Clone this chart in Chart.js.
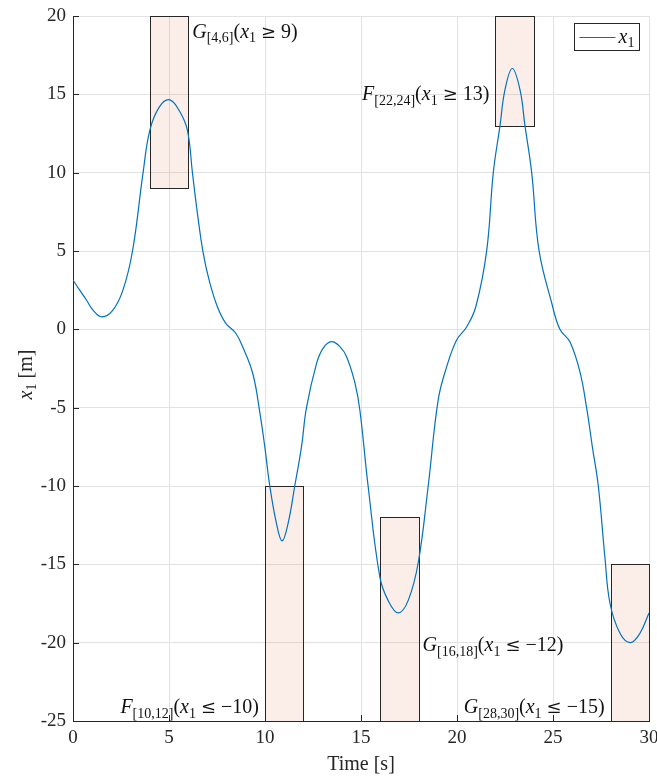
<!DOCTYPE html>
<html>
<head>
<meta charset="utf-8">
<script src="https://cdn.jsdelivr.net/npm/chart.js@4.4.1/dist/chart.umd.min.js"></script>
<style>
  body { margin: 0; background: #fff; }
  canvas { display: block; }
</style>
</head>
<body>
<canvas id="x1-plot" width="657" height="778"></canvas>
<script>
// trajectory
const timeS = [0, 0.35, 0.7, 1.04, 1.5, 2.08, 2.6, 3.1, 3.65, 4.0,
  4.5, 5.04, 5.56, 5.96, 6.22, 6.48, 6.77, 7.09, 7.52, 7.96,
  8.48, 8.91, 9.38, 9.73, 10.0, 10.25, 10.6, 10.89, 11.2, 11.55,
  11.9, 12.16, 12.68, 13.03, 13.46, 13.9, 14.25, 14.68, 14.94, 15.37,
  15.98, 16.41, 16.94, 17.46, 17.98, 18.5, 19.02, 19.46, 19.98, 20.5,
  20.98, 21.55, 21.89, 22.24, 22.5, 22.88, 23.28, 23.54, 23.89,
  24.27, 24.95, 25.36, 25.88, 26.4, 26.75, 27.05, 27.36, 27.7,
  27.97, 28.49, 29.03, 29.53, 30];
const x1 = [3.15, 2.5, 1.87, 1.23, 0.8, 1.23, 2.5, 5.0, 10.0, 12.7,
  14.2, 14.65, 13.9, 12.7, 10.0, 7.4, 4.95, 3.14, 1.44, 0.38,
  -0.25, -1.32, -2.9, -5.3, -7.6, -10.0, -12.4, -13.5, -12.4, -10.0,
  -7.5, -5.0, -2.2, -1.2, -0.79, -1.1, -1.75, -3.4, -5.15, -10.0,
  -15.8, -17.3, -18.1, -17.3, -14.9, -10.0, -4.5, -2.4, -0.68, 0.15,
  1.44, 5.06, 10.0, 13.0, 15.3, 16.65, 15.3, 13.0, 10.0,
  5.06, 1.6, 0.0, -0.8, -2.7, -5.0, -7.5, -10.0, -14.5,
  -17.5, -19.4, -20.0, -19.4, -18.1];

const xTicks = [0, 5, 10, 15, 20, 25, 30];
const yTicks = [-25, -20, -15, -10, -5, 0, 5, 10, 15, 20];

// STL specification boxes
const boxFrom = [4, 10, 16, 22, 28];
const boxTo = [6, 12, 18, 24, 30];
const boxLow = [9, -25, -25, 13, -25];
const boxHigh = [20, -10, -12, 20, -15];
const boxOp = ['G', 'F', 'G', 'F', 'G'];
const boxRel = ['\u2265', '\u2264', '\u2264', '\u2265', '\u2264'];
const boxBound = ['9', '\u221210', '\u221212', '13', '\u221215'];

// where each box label goes (side of the box, baseline in data units)
const labelSide = ['right', 'left', 'right', 'left', 'left'];
const labelBase = [18.6, -24.5, -20.56, 14.62, -24.5];

const SERIF = '"Liberation Serif", "DejaVu Serif", serif';
const INK = '#262626';

function drawMath(ctx, parts, x, y, align, size) {
  const sub = Math.round(size * 0.7);
  const fontOf = p => (p.it ? 'italic ' : '') + (p.sub ? sub : (p.s || size)) + 'px ' + (p.f || SERIF);
  let w = 0;
  parts.forEach(p => { ctx.font = fontOf(p); p.w = ctx.measureText(p.t).width; w += p.w; });
  let cx = align === 'right' ? x - w : align === 'center' ? x - w / 2 : x;
  ctx.textAlign = 'left';
  ctx.textBaseline = 'alphabetic';
  parts.forEach(p => {
    ctx.font = fontOf(p);
    ctx.fillText(p.t, cx, y + (p.sub ? size * 0.22 : 0));
    cx += p.w;
  });
}

const stlBoxes = {
  id: 'stlBoxes',
  beforeDatasetsDraw(chart) {
    const {ctx, scales: {x, y}} = chart;
    ctx.save();
    boxFrom.forEach((t0, i) => {
      const l = Math.round(x.getPixelForValue(t0)) + 0.5;
      const r = Math.round(x.getPixelForValue(boxTo[i])) + 0.5;
      const top = Math.round(y.getPixelForValue(boxHigh[i])) + 0.5;
      const bot = Math.round(y.getPixelForValue(boxLow[i])) + 0.5;
      ctx.fillStyle = 'rgba(217,83,25,0.1)';
      ctx.fillRect(l, top, r - l, bot - top);
      ctx.strokeStyle = INK;
      ctx.lineWidth = 1;
      ctx.strokeRect(l, top, r - l, bot - top);
    });
    ctx.restore();
  },
  afterDatasetsDraw(chart) {
    const {ctx, chartArea: a, scales: {x, y}} = chart;
    ctx.save();
    ctx.fillStyle = '#111';
    boxFrom.forEach((t0, i) => {
      const parts = [
        {t: boxOp[i], it: true},
        {t: '[' + t0 + ',' + boxTo[i] + ']', sub: true},
        {t: '('},
        {t: 'x', it: true},
        {t: '1', sub: true},
        {t: ' '},
        {t: boxRel[i], f: '"DejaVu Serif", serif', s: 18},
        {t: ' ' + boxBound[i] + ')'}
      ];
      const yy = y.getPixelForValue(labelBase[i]);
      if (labelSide[i] === 'right') {
        drawMath(ctx, parts, x.getPixelForValue(boxTo[i]) + 4, yy, 'left', 20);
      } else {
        drawMath(ctx, parts, x.getPixelForValue(t0) - 6, yy, 'right', 20);
      }
    });

    // inward ticks
    ctx.strokeStyle = INK;
    ctx.lineWidth = 1;
    ctx.beginPath();
    xTicks.forEach(v => {
      const px = Math.round(x.getPixelForValue(v)) + 0.5;
      ctx.moveTo(px, a.bottom);
      ctx.lineTo(px, a.bottom - 6);
    });
    yTicks.forEach(v => {
      const py = Math.round(y.getPixelForValue(v)) + 0.5;
      ctx.moveTo(a.left, py);
      ctx.lineTo(a.left + 6, py);
    });
    ctx.stroke();

    // legend
    const lx = a.right - 74.5, ly = a.top + 7.5;
    ctx.fillStyle = '#fff';
    ctx.fillRect(lx, ly, 65, 27);
    ctx.strokeStyle = INK;
    ctx.strokeRect(lx, ly, 65, 27);
    ctx.strokeStyle = '#0072BD';
    ctx.lineWidth = 1.2;
    ctx.beginPath();
    ctx.moveTo(lx + 5, ly + 14);
    ctx.lineTo(lx + 41, ly + 14);
    ctx.stroke();
    ctx.fillStyle = '#111';
    drawMath(ctx, [{t: 'x', it: true}, {t: '1', sub: true}], lx + 44, ly + 19, 'left', 20);

    // y axis title
    ctx.translate(27, (a.top + a.bottom) / 2 + 6);
    ctx.rotate(-Math.PI / 2);
    ctx.fillStyle = INK;
    drawMath(ctx, [{t: 'x', it: true}, {t: '1', sub: true}, {t: ' [m]'}], 0, 5, 'center', 20);
    ctx.restore();
  }
};

new Chart(document.getElementById('x1-plot'), {
  type: 'line',
  data: {
    datasets: [{
      label: 'x1',
      data: timeS.map((t, i) => ({x: t, y: x1[i]})),
      borderColor: '#0072BD',
      borderWidth: 1.2,
      pointRadius: 0,
      tension: 0.4,
      fill: false
    }]
  },
  options: {
    responsive: false,
    animation: false,
    layout: {padding: {top: 16, right: 8, left: 0, bottom: 0}},
    plugins: {legend: {display: false}, tooltip: {enabled: false}},
    scales: {
      x: {
        type: 'linear',
        min: 0,
        max: 30,
        afterBuildTicks: s => { s.ticks = xTicks.map(v => ({value: v})); },
        afterFit: s => { s.height = 57; s.paddingLeft = 0; s.paddingRight = 0; },
        grid: {color: '#e2e2e2', drawTicks: false},
        border: {color: INK},
        ticks: {padding: 6, color: INK, font: {family: SERIF, size: 19}},
        title: {display: true, text: 'Time [s]', color: INK, padding: 1, font: {family: SERIF, size: 20}}
      },
      y: {
        type: 'linear',
        min: -25,
        max: 20,
        afterBuildTicks: s => { s.ticks = yTicks.map(v => ({value: v})); },
        afterFit: s => { s.width = 73; s.paddingTop = 0; s.paddingBottom = 0; },
        grid: {color: '#e2e2e2', drawTicks: false},
        border: {color: INK},
        ticks: {padding: 7, color: INK, font: {family: SERIF, size: 19}, callback: v => String(v)}
      }
    }
  },
  plugins: [stlBoxes]
});
</script>
</body>
</html>
